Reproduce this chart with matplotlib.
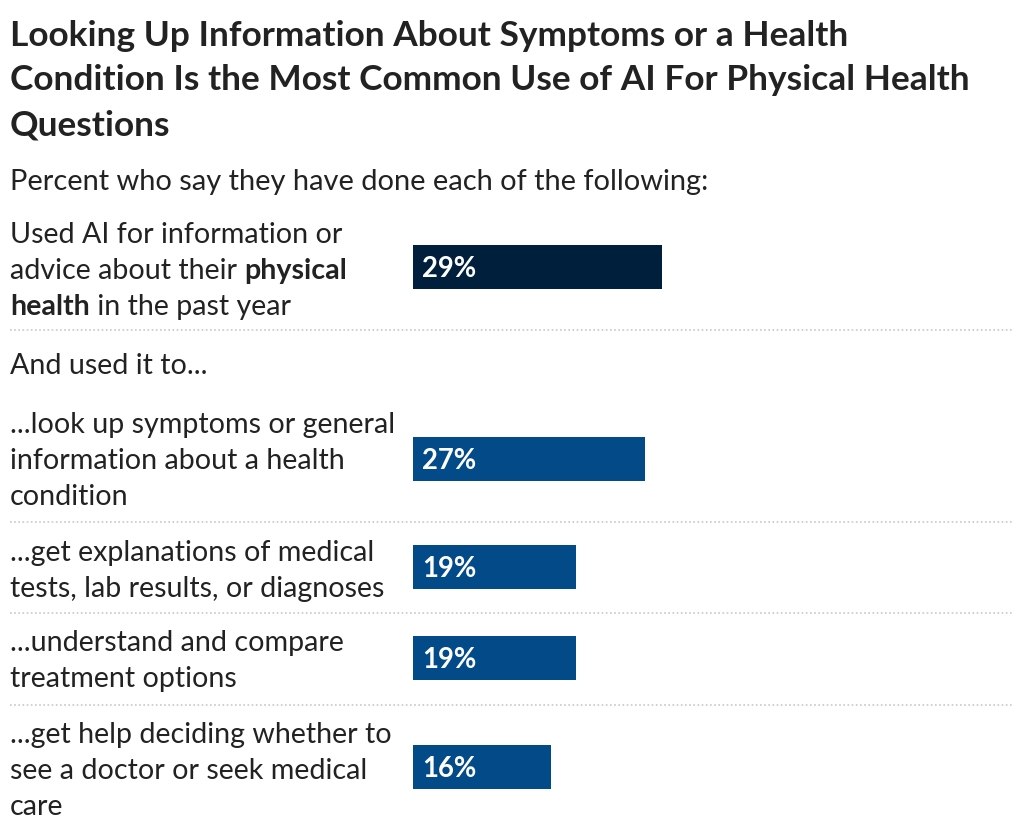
import matplotlib
matplotlib.use("Agg")
import matplotlib.pyplot as plt

plt.rcParams['font.family'] = ['Lato', 'DejaVu Sans']

# chart data
title_lines = ["Looking Up Information About Symptoms or a Health",
               "Condition Is the Most Common Use of AI For Physical Health",
               "Questions"]
subtitle = "Percent who say they have done each of the following:"
values = [29, 27, 19, 19, 16]
value_labels = ["29%", "27%", "19%", "19%", "16%"]
row_labels = [
    ["Used AI for information or", "advice about their |physical|", "|health| in the past year"],
    ["...look up symptoms or general", "information about a health", "condition"],
    ["...get explanations of medical", "tests, lab results, or diagnoses"],
    ["...understand and compare", "treatment options"],
    ["...get help deciding whether to", "see a doctor or seek medical", "care"],
]
section_label = "And used it to..."
bar_colors = ["#001f3d", "#034a89", "#034a89", "#034a89", "#034a89"]

# layout in pixels (figure is 1024 x 838)
W, H = 1024, 838
PX = 0.72  # points per pixel at dpi 100
bar_centers = [267, 459, 567, 658, 767]
label_first = [235, 425, 553, 643, 735]
line_gap = 36
separators = [330, 522, 613, 705]
text_color = "#222222"
label_px = 28.6

fig = plt.figure(figsize=(W / 100, H / 100), dpi=100)
bg = fig.add_axes([0, 0, 1, 1])
bg.set_xlim(0, W)
bg.set_ylim(H, 0)
bg.axis("off")

for i, line in enumerate(title_lines):
    bg.text(10, 36 + i * 44.5, line, fontsize=35.2 * PX, fontweight="bold",
            color=text_color, va="center")
bg.text(10, 182, subtitle, fontsize=29 * PX, color=text_color, va="center")
bg.text(10, 366, section_label, fontsize=label_px * PX, color=text_color, va="center")


def draw_line(y, s):
    # pieces between | are bold
    parts = s.split("|")
    prev = None
    for k, p in enumerate(parts):
        if not p:
            continue
        w = "bold" if k % 2 == 1 else "normal"
        if prev is None:
            prev = bg.text(10, y, p, fontsize=label_px * PX, fontweight=w,
                           color=text_color, va="center")
        else:
            prev = bg.annotate(p, xy=(1, 0), xycoords=prev, va="bottom", ha="left",
                               fontsize=label_px * PX, fontweight=w, color=text_color)


for y0, lines in zip(label_first, row_labels):
    for j, s in enumerate(lines):
        draw_line(y0 + j * line_gap, s)

for y in separators:
    bg.plot([10, 1014], [y, y], color="#c8c8c8", lw=1.2, ls=(0, (1, 1.5)))

# bars
ax = fig.add_axes([413 / W, 0, 602 / W, 1])
ax.set_xlim(0, 70)
ax.set_ylim(H, 0)
ax.axis("off")
ax.barh(bar_centers, values, height=44, color=bar_colors, left=0)
for yc, lab in zip(bar_centers, value_labels):
    ax.text(1.1, yc + 2, lab, fontsize=27.5 * PX, fontweight="bold", color="white",
            va="center", ha="left")

fig.savefig("out.png", dpi=100, facecolor="white")
